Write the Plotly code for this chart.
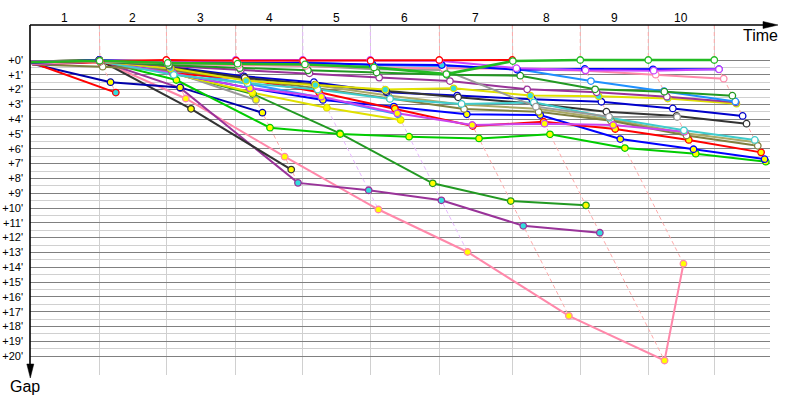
import plotly.graph_objects as go

# ---------------- data ----------------
# leader's lap completion time (minutes) for laps 0..10
LEADER_LAP_TIME = [0, 9.24, 18.17, 27.43, 36.36, 45.37, 54.57, 64.31, 73.37, 82.44, 91.24]
LAP_LABELS = ["1", "2", "3", "4", "5", "6", "7", "8", "9", "10"]
GAP_TICK_VALUES = [0, 1, 2, 3, 4, 5, 6, 7, 8, 9, 10, 11, 12, 13, 14, 15, 16, 17, 18, 19, 20]
GAP_TICK_LABELS = ["+0'", "+1'", "+2'", "+3'", "+4'", "+5'", "+6'", "+7'", "+8'", "+9'", "+10'",
                   "+11'", "+12'", "+13'", "+14'", "+15'", "+16'", "+17'", "+18'", "+19'", "+20'"]

# gap to leader (minutes) at the end of lap 0,1,2,... for each competitor
GAP_RED_LEAD = [0.15, 0.05, 0.0, 0.05, 0.05, 0.05, 0.0, 0.0]
GAP_VIOLET = [0.1, 0.05, 0.1, 0.0, 0.0, 0.0, 0.05, 0.55, 0.7, 0.72, 0.63]
GAP_GREEN = [0.15, 0.05, 0.2, 0.25, 0.3, 0.5, 0.95, 0.07, 0.0, 0.0, 0.0]
GAP_DKGREEN_UP = [0.2, 0.1, 0.35, 0.55, 0.7, 0.85, 1.0, 1.06, 1.98, 2.14, 2.41]
GAP_BLUE_UP = [0.2, 0.0, 0.1, 0.2, 0.2, 0.3, 0.34, 0.66, 0.6, 0.63, 0.62]
GAP_PINK = [0.25, 0.1, 0.2, 0.35, 0.4, 0.5, 0.55, 0.6, 0.72, 0.99, 1.26]
GAP_LIGHTBLUE_UP = [0.2, 0.05, 0.15, 0.3, 0.15, 0.35, 0.4, 0.6, 1.42, 2.1, 2.8]
GAP_GRAY = [0.2, 0.05, 0.3, 0.3, 0.38, 0.63, 0.68, 3.15, 3.83, 3.85]
GAP_PURPLE = [0.3, 0.1, 0.4, 0.68, 0.9, 1.19, 1.42, 1.98, 2.18, 2.48, 2.86]
GAP_YELLOW_UP = [0.2, 0.1, 0.56, 1.4, 1.69, 2.0, 1.91, 2.4, 2.45, 2.6, 2.95]
GAP_CYAN = [0.2, 0.1, 1.0, 1.57, 2.0, 2.63, 2.97, 2.86, 3.9, 4.75, 5.4]
GAP_BLACK = [0.2, 0.1, 0.5, 1.2, 1.66, 2.1, 2.52, 2.95, 3.49, 3.78, 4.3]
GAP_BLUE2 = [0.25, 0.1, 0.45, 1.1, 1.5, 2.18, 2.4, 2.65, 2.82, 3.27, 3.78]
GAP_OLIVE = [0.3, 0.45, 0.7, 1.3, 1.9, 2.6, 3.31, 3.5, 4.1, 5.1, 5.8]
GAP_KHAKI = [0.2, 0.1, 0.6, 1.15, 1.7, 2.4, 3.0, 3.3, 4.0, 4.95, 5.56]
GAP_RED_LOW = [0.3, 0.15, 0.9, 1.28, 2.18, 3.28, 4.46, 4.17, 4.66, 5.4, 6.24]
GAP_BLUE3 = [0.25, 0.1, 0.9, 1.9, 2.7, 3.15, 3.67, 3.72, 5.34, 6.03, 6.7]
GAP_BGREEN = [0.2, 0.05, 1.35, 4.57, 5.0, 5.18, 5.3, 5.02, 5.95, 6.33, 6.87]
GAP_MAGENTA = [0.2, 0.1, 0.9, 1.9, 2.48, 3.6, 4.39, 4.3, 4.39, 4.84]
GAP_DKGREEN_LOW = [0.1, 0.0, 0.9, 2.3, 4.95, 8.33, 9.53, 9.82]
GAP_PURPLE2 = [0.15, 0.05, 1.9, 8.3, 8.8, 9.48, 11.2, 11.67]
GAP_PINK2 = [0.1, 0.0, 2.6, 6.53, 10.1, 12.97, 17.28, 20.3, 13.76]
GAP_BLACK_SHORT = [0.1, 0.0, 3.3, 7.4]
GAP_NAVY = [0.25, 1.5, 1.85, 3.56]
GAP_RED_SHORT = [0.15, 2.2]
GAP_LIGHTBLUE_LOW = [0.2, 0.1, 0.7, 1.6, 2.55, 3.67]
GAP_YELLOW_LOW = [0.2, 0.1, 0.9, 2.2, 3.22, 4.05]
GAP_GRAY2 = [0.2, 0.1, 0.8, 2.7]

DRIVERS = [
    ("pink2", GAP_PINK2), ("purple2", GAP_PURPLE2), ("black_short", GAP_BLACK_SHORT),
    ("dkgreen_low", GAP_DKGREEN_LOW), ("navy", GAP_NAVY), ("red_short", GAP_RED_SHORT),
    ("gray2", GAP_GRAY2), ("yellow_low", GAP_YELLOW_LOW), ("lightblue_low", GAP_LIGHTBLUE_LOW),
    ("bgreen", GAP_BGREEN), ("blue3", GAP_BLUE3), ("red_low", GAP_RED_LOW), ("khaki", GAP_KHAKI),
    ("olive", GAP_OLIVE), ("magenta", GAP_MAGENTA), ("blue2", GAP_BLUE2), ("black", GAP_BLACK),
    ("cyan", GAP_CYAN), ("yellow_up", GAP_YELLOW_UP), ("purple", GAP_PURPLE), ("gray", GAP_GRAY),
    ("lightblue_up", GAP_LIGHTBLUE_UP), ("dkgreen_up", GAP_DKGREEN_UP), ("pink", GAP_PINK),
    ("blue_up", GAP_BLUE_UP), ("violet", GAP_VIOLET), ("red_lead", GAP_RED_LEAD), ("green", GAP_GREEN),
]

# ---------------- styles ----------------
STYLE = {
    "red_lead": ("#ff0000", "white"), "violet": ("#cc44ff", "white"), "green": ("#22bb22", "white"),
    "dkgreen_up": ("#229922", "white"), "blue_up": ("#0000ff", "#33dddd"), "pink": ("#ff88aa", "white"),
    "lightblue_up": ("#1e90ff", "white"), "gray": ("#999999", "white"), "purple": ("#993399", "white"),
    "yellow_up": ("#e0e000", "#33dddd"), "cyan": ("#40cccc", "white"), "black": ("#333333", "white"),
    "blue2": ("#0000cc", "white"), "olive": ("#808040", "white"), "khaki": ("#aaaa66", "white"),
    "red_low": ("#ff0000", "#ffff00"), "blue3": ("#0000ff", "#ffff00"), "bgreen": ("#00cc00", "#ffff00"),
    "magenta": ("#cc44ee", "#ffff00"), "dkgreen_low": ("#229922", "#ffff00"),
    "purple2": ("#993399", "#33dddd"), "pink2": ("#ff88aa", "#ffff00"),
    "black_short": ("#333333", "#ffff00"), "navy": ("#0000aa", "#ffff00"), "red_short": ("#ff0000", "#33dddd"),
    "lightblue_low": ("#3399ff", "#ffff00"), "yellow_low": ("#e0e000", "#ffff00"), "gray2": ("#999999", "#ffff00"),
}
LAP_LINE_COLOR = {4: "#e8b8ff", 5: "#e8b8ff"}
DEFAULT_LAP_LINE = "#ffaaaa"

FONT = "Liberation Sans"
X_MAX = 98.67
Y_TOP, Y_BOT = -2.365, 21.28
W, H = 800, 400
PX_LEFT, PX_RIGHT, PX_TOP, PX_BOTTOM = 30, 770, 25, 375   # plot area in page pixels
L, R, T, B = PX_LEFT, W - PX_RIGHT, PX_TOP, H - PX_BOTTOM


def px_x(p):
    return (p - PX_LEFT) / (PX_RIGHT - PX_LEFT)


def px_y(p):
    return (PX_BOTTOM - p) / (PX_BOTTOM - PX_TOP)


fig = go.Figure()

# lap lines (dashed), connecting each competitor's lap-k crossing in gap order
for k in range(1, len(LEADER_LAP_TIME)):
    gaps = sorted(g[k] for _, g in DRIVERS if len(g) > k)
    xs = [LEADER_LAP_TIME[k]] + [LEADER_LAP_TIME[k] + g for g in gaps]
    ys = [Y_TOP] + gaps
    fig.add_trace(go.Scatter(x=xs, y=ys, mode="lines", hoverinfo="skip",
                             line=dict(color=LAP_LINE_COLOR.get(k, DEFAULT_LAP_LINE), width=1, dash="4px,3px")))

# competitor lines
for name, gaps in DRIVERS:
    col, _ = STYLE[name]
    xs = [LEADER_LAP_TIME[i] + g for i, g in enumerate(gaps)]
    w = 2.6 if name == "green" else 2
    fig.add_trace(go.Scatter(x=xs, y=gaps, mode="lines", line=dict(color=col, width=w), name=name))

# lap markers
for name, gaps in DRIVERS:
    col, fill = STYLE[name]
    xs = [LEADER_LAP_TIME[i] + g for i, g in enumerate(gaps)][1:]
    fig.add_trace(go.Scatter(x=xs, y=gaps[1:], mode="markers",
                             marker=dict(size=6.5, color=fill, line=dict(color=col, width=1.3))))

# axes with arrows
fig.add_shape(type="line", xref="paper", yref="paper", x0=0, x1=px_x(766), y0=1, y1=1,
              line=dict(color="black", width=1.6))
fig.add_shape(type="path", xref="paper", yref="paper", fillcolor="black", line=dict(color="black", width=0.5),
              path=f"M {px_x(778)} {px_y(25)} L {px_x(763)} {px_y(21.5)} L {px_x(763)} {px_y(28.5)} Z")
fig.add_shape(type="line", xref="paper", yref="paper", x0=0, x1=0, y0=1, y1=px_y(366),
              line=dict(color="black", width=1.6))
fig.add_shape(type="path", xref="paper", yref="paper", fillcolor="black", line=dict(color="black", width=0.5),
              path=f"M {px_x(30.3)} {px_y(378)} L {px_x(26.8)} {px_y(364)} L {px_x(33.8)} {px_y(364)} Z")

# lap numbers on top
for i, lab in enumerate(LAP_LABELS):
    xm = (LEADER_LAP_TIME[i] + LEADER_LAP_TIME[i + 1]) / 2
    fig.add_annotation(x=xm, xref="x", y=px_y(17.5), yref="paper", text=lab, showarrow=False,
                       xanchor="center", yanchor="middle",
                       font=dict(family=FONT, size=12, color="black"))

fig.add_annotation(x=px_x(760), y=px_y(35), xref="paper", yref="paper", text="Time", showarrow=False,
                   xanchor="center", yanchor="middle",
                   font=dict(family=FONT, size=16, color="black"))
fig.add_annotation(x=px_x(25), y=px_y(386), xref="paper", yref="paper", text="Gap", showarrow=False,
                   xanchor="center", yanchor="middle",
                   font=dict(family=FONT, size=16, color="black"))

fig.update_layout(
    width=W, height=H, autosize=False,
    margin=dict(l=L, r=R, t=T, b=B, autoexpand=False),
    paper_bgcolor="white", plot_bgcolor="white",
    showlegend=False,
    xaxis=dict(range=[0, X_MAX], tickvals=LEADER_LAP_TIME[1:], showticklabels=False, ticks="",
               automargin=False,
               showgrid=True, gridcolor="#d0d0d0", gridwidth=1, zeroline=False, showline=False),
    yaxis=dict(range=[Y_BOT, Y_TOP], tickvals=GAP_TICK_VALUES, ticktext=GAP_TICK_LABELS, ticks="",
               ticklabelstandoff=6, automargin=False,
               showgrid=True, gridcolor="#808080", gridwidth=1, zeroline=False, showline=False,
               tickfont=dict(family=FONT, size=11, color="black"),
               minor=dict(tickvals=[v + 0.5 for v in GAP_TICK_VALUES[:-1]], showgrid=True,
                          gridcolor="#d0d0d0", gridwidth=1)),
)

fig.write_html("out.html", config={"displayModeBar": False},
               post_script="document.body.style.margin='0';document.body.style.overflow='hidden';")
